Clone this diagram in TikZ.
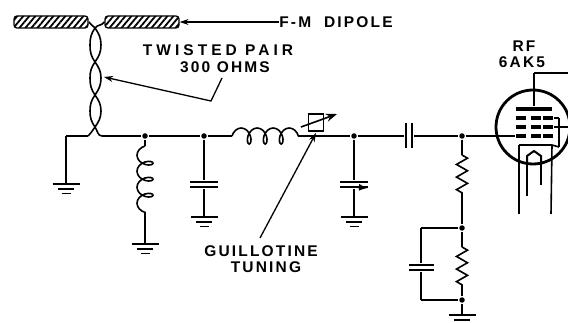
\documentclass[tikz,border=0pt]{standalone}
\usepackage{fontspec}
\setmainfont{Liberation Sans}
\usetikzlibrary{arrows.meta,patterns.meta,decorations.pathmorphing}
\tikzset{
  wire/.style={line width=1.6pt},
  dot/.style={circle, fill=black, inner sep=0pt, minimum size=5.5pt},
  plate/.style={rectangle, fill=black, inner sep=0pt, minimum width=28pt, minimum height=2pt},
  vplate/.style={rectangle, fill=black, inner sep=0pt, minimum width=2pt, minimum height=25pt},
  rod/.style={draw, rounded corners=3pt, inner sep=0pt, minimum width=74pt, minimum height=12pt,
    line width=1.3pt, pattern={Lines[angle=50,distance=4.6pt,line width=1.8pt]}},
  griddash/.style={rectangle, fill=black, inner sep=0pt, minimum width=10pt, minimum height=4pt},
  label/.style={font=\fontsize{15.5}{15.5}\selectfont\bfseries\addfontfeature{LetterSpace=14}, inner sep=0pt},
  coilh/.style={decorate, decoration={coil, aspect=0.65, segment length=16pt, amplitude=8pt}},
  coilv/.style={decorate, decoration={coil, aspect=0.65, segment length=16pt, amplitude=8pt, mirror}},
  resistor/.style={decorate, decoration={zigzag, segment length=12.6pt, amplitude=5.5pt}},
  pointer/.style={-{Stealth[length=9pt,width=6pt]}, line width=1.3pt},
  gnd/.pic={
    \draw[line width=1.6pt] (-13.5,0) -- (13.5,0);
    \draw[line width=1.6pt] (-8,5) -- (8,5);
    \draw[line width=1.6pt] (-4.5,9.5) -- (4.5,9.5);
  }
}
\begin{document}
\begin{tikzpicture}[x=1pt, y=-1pt, wire]
  \useasboundingbox (0,0) rectangle (568,323);
  % antenna
  \node[rod] (dipoleL) at (51,22) {};
  \node[rod] (dipoleR) at (142,22) {};
  \node[label] (fm) at (336,22) {F-M\ \ DIPOLE};
  \draw[pointer] (fm.west) -- (dipoleR.east);
  \node[label] (twisted) at (218,50) {\addfontfeature{LetterSpace=26}TWISTED PAIR};
  \node[label] (ohms) at (225,67) {300 OHMS};
  \node[label] (guillotine) at (261,251) {GUILLOTINE};
  \node[label] (tuning) at (266,267) {TUNING};
  \node[label] (rf) at (524,46) {RF};
  \node[label] (tubetype) at (522,62) {6AK5};
  % twisted pair
  \coordinate (x1) at (95,28);
  \coordinate (x2) at (95,62);
  \coordinate (x3) at (95,95);
  \coordinate (x4) at (95,127);
  \coordinate (busL) at (88,136);
  \coordinate (busR) at (102,136);
  \draw (dipoleL.east) to[out=-60,in=125] (x1) to[out=-55,in=90] (101,45) to[out=-90,in=55] (x2)
    to[out=-125,in=90] (90,78) to[out=-90,in=125] (x3) to[out=-55,in=90] (101,111) to[out=-90,in=55] (x4) to[out=-125,in=45] (busL);
  \draw (dipoleR.west) to[out=-120,in=55] (x1) to[out=-125,in=90] (90,45) to[out=-90,in=125] (x2)
    to[out=-55,in=90] (101,78) to[out=-90,in=55] (x3) to[out=-125,in=90] (90,111) to[out=-90,in=125] (x4) to[out=-55,in=180] (busR);
  \coordinate (ptrbend) at (211,101);
  \coordinate (ptrstart) at (222,78);
  \coordinate (ptrtip) at (104,77);
  \draw[pointer] (ptrstart) -- (ptrbend) -- (ptrtip);
  % junctions
  \node[dot] (j1) at (145,136) {};
  \node[dot] (j2) at (204,136) {};
  \node[dot] (j3) at (354,136) {};
  \node[dot] (j4) at (462,136) {};
  \node[dot] (j5) at (462,228) {};
  \node[dot] (j6) at (462,300) {};
  \coordinate (corner) at (66,136);
  \coordinate (g1) at (66,184);
  \coordinate (g2) at (145,244);
  \coordinate (g3) at (204,217);
  \coordinate (g4) at (354,217);
  \coordinate (g5) at (462,315);
  \foreach \g in {g1,g2,g3,g4,g5}
    \pic at (\g) {gnd};
  % coils
  \coordinate (l1a) at (232,136);
  \coordinate (l1b) at (299,136);
  \coordinate (l2a) at (145,146);
  \coordinate (l2b) at (145,213);
  \draw[coilh] (l1a) -- (l1b);
  \draw[coilv] (l2a) -- (l2b);
  % tuning slug
  \node[draw, inner sep=0pt, minimum width=15pt, minimum height=17pt] (slug) at (316,122.5) {};
  \coordinate (slugA) at (301,127);
  \coordinate (slugB) at (337,114);
  \draw[-{Stealth[length=11pt,width=8pt]}] (slugA) -- (slugB);
  \coordinate (tunestart) at (260,238);
  \coordinate (tunetip) at (316,133);
  \draw[pointer] (tunestart) -- (tunetip);
  % capacitors
  \node[plate] (c1a) at (204,182) {};
  \node[plate] (c1b) at (204,187) {};
  \node[plate] (c2a) at (354,182) {};
  \node[plate] (c2b) at (354,187) {};
  \node[plate, minimum width=25pt] (c3a) at (421,265) {};
  \node[plate, minimum width=25pt] (c3b) at (421,270) {};
  \node[vplate] (c4a) at (406,136) {};
  \node[vplate] (c4b) at (412,136) {};
  \coordinate (c2tip) at (368,188);
  \draw[-{Latex[length=9pt,width=7pt]}] (c2b.center) -- (c2tip);
  % resistors
  \coordinate (r1a) at (462,155);
  \coordinate (r1b) at (462,193);
  \coordinate (r2a) at (462,247);
  \coordinate (r2b) at (462,285);
  \draw[resistor] (r1a) -- (r1b);
  \draw[resistor] (r2a) -- (r2b);
  \coordinate (c3top) at (421,228);
  \coordinate (c3bot) at (421,300);
  % tube
  \node[draw, circle, inner sep=0pt, minimum size=74pt, line width=2.8pt] (tube) at (533,127) {};
  \node[rectangle, fill=black, inner sep=0pt, minimum width=36pt, minimum height=4pt] (tubeplate) at (534,109) {};
  \foreach \x/\i in {521/a,536/b,548/c}
    \foreach \y/\j in {118/1,127/2,136/3}
      \node[griddash] (grid\i\j) at (\x,\y) {};
  \coordinate (platecorner) at (534,73);
  \coordinate (plateout) at (568,73);
  \coordinate (g2top) at (559,118);
  \coordinate (g2bot) at (559,147);
  \coordinate (g2out) at (568,127);
  \coordinate (cathL) at (519,145);
  \coordinate (cathR) at (552,145);
  \coordinate (legL) at (519,214);
  \coordinate (legR) at (551,214);
  \draw[line width=2.8pt] (cathL) -- (cathR);
  \coordinate (heatL) at (527,165);
  \coordinate (heatR) at (541,165);
  \draw[line width=2pt] (heatL) -- (527,156) -- (534,151) -- (541,156) -- (heatR);
  \coordinate (heatLend) at (527,196);
  \coordinate (heatRend) at (541,185);
  \foreach \source/\dest in {busL/corner, corner/g1, busR/j1, j1/j2, j2/l1a, l1b/j3, j3/c4a, c4b/j4, j4/grida3,
      j1/l2a, l2b/g2, j2/c1a, c1b/g3, j3/c2a, c2b/g4, j4/r1a, r1b/j5, j5/r2a, r2b/j6, j6/g5,
      j5/c3top, c3top/c3a, c3b/c3bot, c3bot/j6, tubeplate/platecorner, platecorner/plateout,
      gridc1/g2top, g2top/g2bot, g2bot/cathR, gridc2/g2out, cathL/legL, cathR/legR, heatL/heatLend, heatR/heatRend}
    \path[draw] (\source) edge (\dest);
\end{tikzpicture}
\end{document}
